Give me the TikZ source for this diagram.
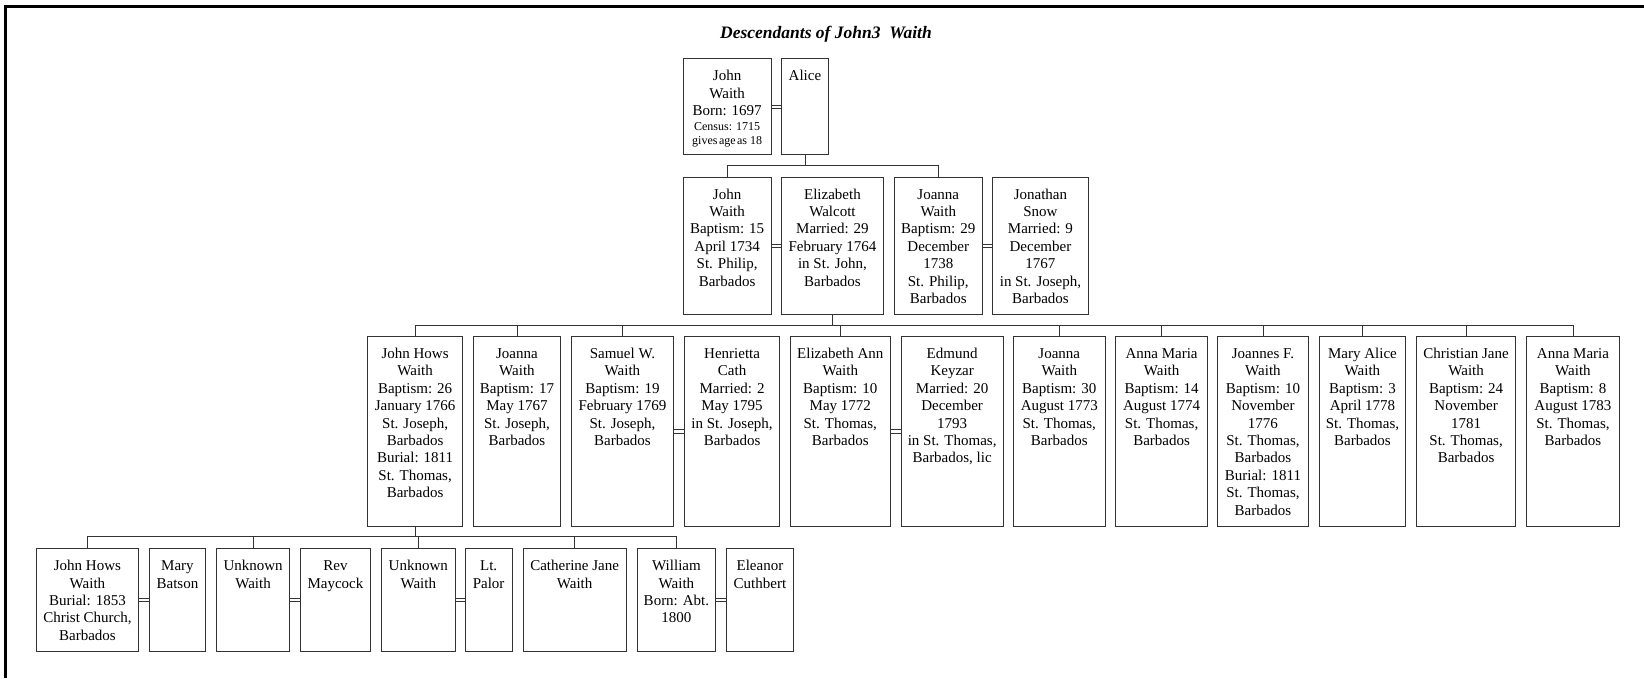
\documentclass[tikz,border=0pt]{standalone}
\usepackage{fontspec}
\setmainfont{Liberation Serif}
% one family-tree box: name, left, top, width, height, lines of text
\newcommand\person[6]{%
  \node[person, minimum width=#4pt, minimum height=#5pt] (#1) at (#2,#3)
    {\parbox[c][#5pt][t]{#4pt}{\centering\rule{0pt}{22pt}#6\par}};}
\begin{document}
\begin{tikzpicture}[x=1pt,y=-1pt,
  person/.style={draw=black!80, line width=0.9pt, inner sep=0pt, anchor=north west,
                 font=\fontsize{15}{17.4}\selectfont},
  wed/.style={draw=black!80, double=white, double distance=2.2pt, line width=1pt},
  kin/.style={draw=black!80, line width=0.9pt}]
\useasboundingbox (0,0) rectangle (1644,678);
\fill[white] (0,0) rectangle (1644,678);
\draw[line width=3pt] (5.3,678) -- (5.3,6) -- (1644,6);

\node (title) at (826,34.5)
  {\fontsize{17.5}{21}\selectfont\bfseries\itshape Descendants of John3\ \ Waith};

% generation 1
\person{j1}{682.7}{58.3}{88}{95.7}{John\\Waith\\Born: 1697\par\vspace{1pt}%
  {\fontsize{12}{14}\selectfont Census: 1715\\gives\hspace{1.5pt}age\hspace{1.5pt}as 18\par}}
\person{alice}{780.7}{58.3}{47.6}{95.7}{Alice}

% generation 2
\person{j2}{682.7}{176.7}{88}{137.6}{John\\Waith\\Baptism: 15\\April 1734\\St. Philip,\\Barbados}
\person{eliz}{780.7}{176.7}{102.6}{137.6}{Elizabeth\\Walcott\\Married: 29\\February 1764\\in St. John,\\Barbados}
\person{joanna}{894}{176.7}{87.7}{137.6}{Joanna\\Waith\\Baptism: 29\\December\\1738\\St. Philip,\\Barbados}
\person{jonathan}{992.3}{176.7}{95.4}{137.6}{Jonathan\\Snow\\Married: 9\\December\\1767\\in St. Joseph,\\Barbados}

% generation 3
\person{jhw}{367.3}{336}{94.7}{190}{John Hows\\Waith\\Baptism: 26\\January 1766\\St. Joseph,\\Barbados\\Burial: 1811\\St. Thomas,\\Barbados}
\person{joannaA}{472.7}{336}{87.6}{190}{Joanna\\Waith\\Baptism: 17\\May 1767\\St. Joseph,\\Barbados}
\person{samuel}{570.7}{336}{102.6}{190}{Samuel W.\\Waith\\Baptism: 19\\February 1769\\St. Joseph,\\Barbados}
\person{henrietta}{684.3}{336}{94.7}{190}{Henrietta\\Cath\\Married: 2\\May 1795\\in St. Joseph,\\Barbados}
\person{elizann}{789.7}{336}{100.3}{190}{Elizabeth Ann\\Waith\\Baptism: 10\\May 1772\\St. Thomas,\\Barbados}
\person{edmund}{900.7}{336}{102}{190}{Edmund\\Keyzar\\Married: 20\\December\\1793\\in St. Thomas,\\Barbados, lic}
\person{joannaB}{1013}{336}{91.7}{190}{Joanna\\Waith\\Baptism: 30\\August 1773\\St. Thomas,\\Barbados}
\person{annaA}{1115.3}{336}{91.7}{190}{Anna Maria\\Waith\\Baptism: 14\\August 1774\\St. Thomas,\\Barbados}
\person{joannes}{1217.3}{336}{90.4}{190}{Joannes F.\\Waith\\Baptism: 10\\November\\1776\\St. Thomas,\\Barbados\\Burial: 1811\\St. Thomas,\\Barbados}
\person{maryalice}{1318.7}{336}{86.6}{190}{Mary Alice\\Waith\\Baptism: 3\\April 1778\\St. Thomas,\\Barbados}
\person{christian}{1416}{336}{99.3}{190}{Christian Jane\\Waith\\Baptism: 24\\November\\1781\\St. Thomas,\\Barbados}
\person{annaB}{1526.3}{336}{92.4}{190}{Anna Maria\\Waith\\Baptism: 8\\August 1783\\St. Thomas,\\Barbados}

% generation 4
\person{jhw4}{35.7}{548.3}{102.6}{102.7}{John Hows\\Waith\\Burial: 1853\\Christ Church,\\Barbados}
\person{mary}{149}{548.3}{56}{102.7}{Mary\\Batson}
\person{unkA}{216.3}{548.3}{72.7}{102.7}{Unknown\\Waith}
\person{rev}{300}{548.3}{70}{102.7}{Rev\\Maycock}
\person{unkB}{381}{548.3}{73.7}{102.7}{Unknown\\Waith}
\person{palor}{464.7}{548.3}{47}{102.7}{Lt.\\Palor}
\person{cath}{522.7}{548.3}{103}{102.7}{Catherine Jane\\Waith}
\person{william}{636.7}{548.3}{78.6}{102.7}{William\\Waith\\Born: Abt.\\1800}
\person{eleanor}{726}{548.3}{67}{102.7}{Eleanor\\Cuthbert}

% marriages
\foreach \a/\b in {j1/alice, j2/eliz, joanna/jonathan, samuel/henrietta, elizann/edmund,
                   jhw4/mary, unkA/rev, unkB/palor, william/eleanor}
  \draw[wed] (\a.east) -- (\b.west);

% descent lines
\coordinate (barA) at (0,165.7);
\coordinate (barB) at (0,325);
\coordinate (barC) at (0,536.7);

\draw[kin] (alice.south) -- (alice.south |- barA);
\draw[kin] (j2.north) -- (j2.north |- barA) -| (joanna.north);

\draw[kin] (eliz.south) -- (eliz.south |- barB);
\draw[kin] (jhw.north) -- (jhw.north |- barB) -| (annaB.north);
\foreach \c in {joannaA, samuel, elizann, joannaB, annaA, joannes, maryalice, christian}
  \draw[kin] (\c.north) -- (\c.north |- barB);

\draw[kin] (jhw.south) -- (jhw.south |- barC);
\draw[kin] (jhw4.north) -- (jhw4.north |- barC) -| (william.north);
\foreach \c in {unkA, unkB, cath}
  \draw[kin] (\c.north) -- (\c.north |- barC);
\end{tikzpicture}
\end{document}
